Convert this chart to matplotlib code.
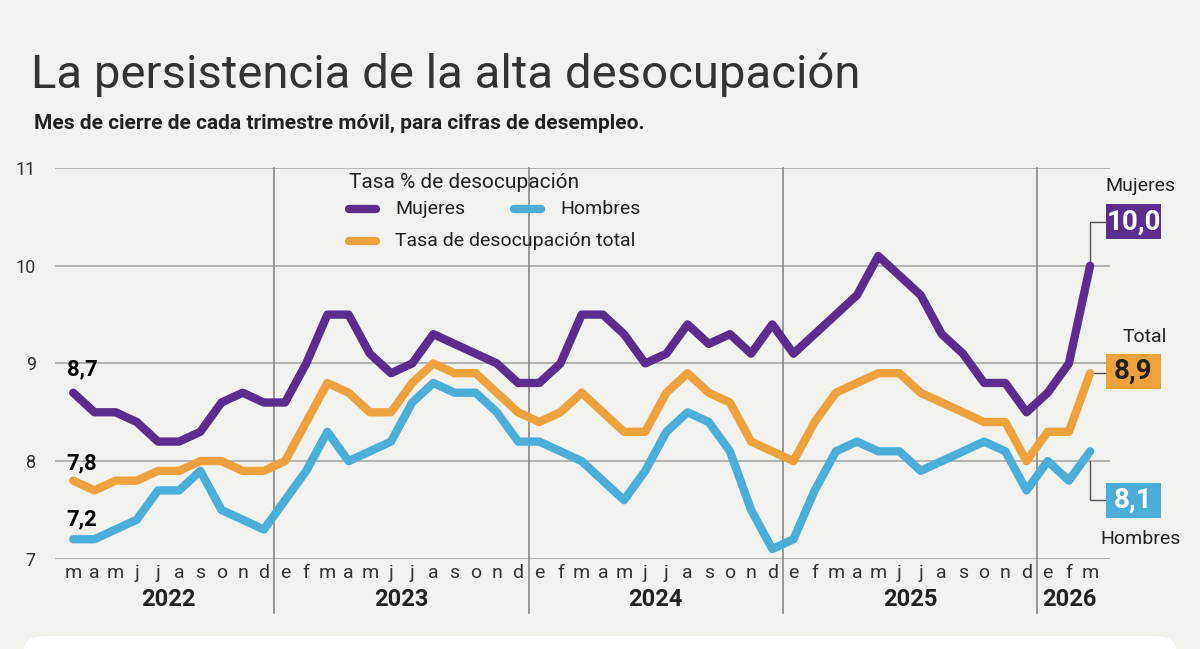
import matplotlib.pyplot as plt
from matplotlib.patches import FancyBboxPatch

plt.rcParams['font.family'] = ['Roboto', 'DejaVu Sans']

months = list("mamjjasond") + list("efmamjjasond") * 3 + list("efm")
years = ["2022", "2023", "2024", "2025", "2026"]
year_mid = [4.5, 15.5, 27.5, 39.5, 47.0]
year_breaks = [9.5, 21.5, 33.5, 45.5]

mujeres = [8.7, 8.5, 8.5, 8.4, 8.2, 8.2, 8.3, 8.6, 8.7, 8.6,
           8.6, 9.0, 9.5, 9.5, 9.1, 8.9, 9.0, 9.3, 9.2, 9.1, 9.0, 8.8,
           8.8, 9.0, 9.5, 9.5, 9.3, 9.0, 9.1, 9.4, 9.2, 9.3, 9.1, 9.4,
           9.1, 9.3, 9.5, 9.7, 10.1, 9.9, 9.7, 9.3, 9.1, 8.8, 8.8, 8.5,
           8.7, 9.0, 10.0]
total = [7.8, 7.7, 7.8, 7.8, 7.9, 7.9, 8.0, 8.0, 7.9, 7.9,
         8.0, 8.4, 8.8, 8.7, 8.5, 8.5, 8.8, 9.0, 8.9, 8.9, 8.7, 8.5,
         8.4, 8.5, 8.7, 8.5, 8.3, 8.3, 8.7, 8.9, 8.7, 8.6, 8.2, 8.1,
         8.0, 8.4, 8.7, 8.8, 8.9, 8.9, 8.7, 8.6, 8.5, 8.4, 8.4, 8.0,
         8.3, 8.3, 8.9]
hombres = [7.2, 7.2, 7.3, 7.4, 7.7, 7.7, 7.9, 7.5, 7.4, 7.3,
           7.6, 7.9, 8.3, 8.0, 8.1, 8.2, 8.6, 8.8, 8.7, 8.7, 8.5, 8.2,
           8.2, 8.1, 8.0, 7.8, 7.6, 7.9, 8.3, 8.5, 8.4, 8.1, 7.5, 7.1,
           7.2, 7.7, 8.1, 8.2, 8.1, 8.1, 7.9, 8.0, 8.1, 8.2, 8.1, 7.7,
           8.0, 7.8, 8.1]

PURPLE = '#5b2d8e'
ORANGE = '#eea23e'
BLUE = '#4aaed9'
BG = '#f1f1ee'
GRID = '#a8a8a8'

fig = plt.figure(figsize=(12, 6.49), dpi=100, facecolor=BG)
ax = fig.add_axes([0.046, 0.139, 0.879, 0.602], facecolor=BG)
x = list(range(len(months)))
ax.set_xlim(-0.85, 48.94)
ax.set_ylim(7, 11)

for v in [7, 8, 9, 10, 11]:
    ax.axhline(v, xmin=0.0, xmax=1.0, color=GRID, lw=1.2, zorder=1)
for b in year_breaks:
    ax.plot([b, b], [11, 6.45], color='#888888', lw=1.2, clip_on=False, zorder=1)

for ser, c in [(hombres, BLUE), (total, ORANGE), (mujeres, PURPLE)]:
    ax.plot(x, ser, color=c, lw=6, solid_joinstyle='round', solid_capstyle='round', zorder=3)

for s in ax.spines.values():
    s.set_visible(False)
ax.set_yticks([7, 8, 9, 10, 11])
ax.set_yticklabels(['7', '8', '9', '10', '11'], fontsize=13, color='#333333')
ax.tick_params(axis='y', length=0, pad=14)
ax.set_xticks(x)
ax.set_xticklabels(months, fontsize=14, color='#333333')
ax.tick_params(axis='x', length=0, pad=4)
for xm, yr in zip(year_mid, years):
    ax.text(xm, 6.58, yr, ha='center', va='center', fontsize=17, fontweight='bold', color='#222222')

# first values
ax.text(-0.3, mujeres[0] + 0.18, '8,7', fontsize=16, fontweight='bold', ha='left')
ax.text(-0.3, total[0] + 0.18, '7,8', fontsize=16, fontweight='bold', ha='left', va='center')
ax.text(-0.3, hombres[0] + 0.2, '7,2', fontsize=16, fontweight='bold', ha='left', va='center')

# end labels
last = len(months) - 1
def endbox(yc, txt, color, tc):
    ax.add_patch(FancyBboxPatch((48.75, yc - 0.16), 2.6, 0.32, boxstyle='square,pad=0.02',
                                fc=color, ec='none', clip_on=False, zorder=4))
    ax.text(50.05, yc, txt, ha='center', va='center', fontsize=20, fontweight='bold',
            color=tc, clip_on=False, zorder=5)

endbox(10.45, '10,0', PURPLE, 'white')
ax.plot([last, last, 48.7], [mujeres[last], 10.45, 10.45], color='#555555', lw=1, clip_on=False)
ax.text(50.4, 10.82, 'Mujeres', ha='center', va='center', fontsize=14, color='#222222')
endbox(8.92, '8,9', ORANGE, '#222222')
ax.plot([last + 0.2, 48.7], [8.9, 8.9], color='#555555', lw=1, clip_on=False)
ax.text(50.6, 9.27, 'Total', ha='center', va='center', fontsize=14, color='#222222')
endbox(7.6, '8,1', BLUE, 'white')
ax.plot([last, last, 48.7], [hombres[last] - 0.1, 7.6, 7.6], color='#555555', lw=1, clip_on=False)
ax.text(50.4, 7.2, 'Hombres', ha='center', va='center', fontsize=14, color='#222222')

# legend
ax.text(13.0, 10.85, 'Tasa % de desocupación', fontsize=15, color='#222222', va='center')
for lx, ly, c, lab in [(13.0, 10.58, PURPLE, 'Mujeres'), (20.8, 10.58, BLUE, 'Hombres'),
                       (13.0, 10.25, ORANGE, 'Tasa de desocupación total')]:
    ax.plot([lx, lx + 1.3], [ly, ly], color=c, lw=6, solid_capstyle='round')
    ax.text(lx + 2.2, ly, lab, fontsize=14, color='#222222', va='center')

fig.text(0.026, 0.885, 'La persistencia de la alta desocupación', fontsize=34, color='#333333', va='center')
fig.text(0.028, 0.81, 'Mes de cierre de cada trimestre móvil, para cifras de desempleo.', fontsize=15,
         fontweight='bold', color='#222222', va='center')

fig.patches.append(FancyBboxPatch((0.02, -0.05), 0.96, 0.07, boxstyle='round,pad=0,rounding_size=0.02',
                                  transform=fig.transFigure, fc='white', ec='none'))

fig.savefig('out.png', dpi=100, facecolor=BG)
